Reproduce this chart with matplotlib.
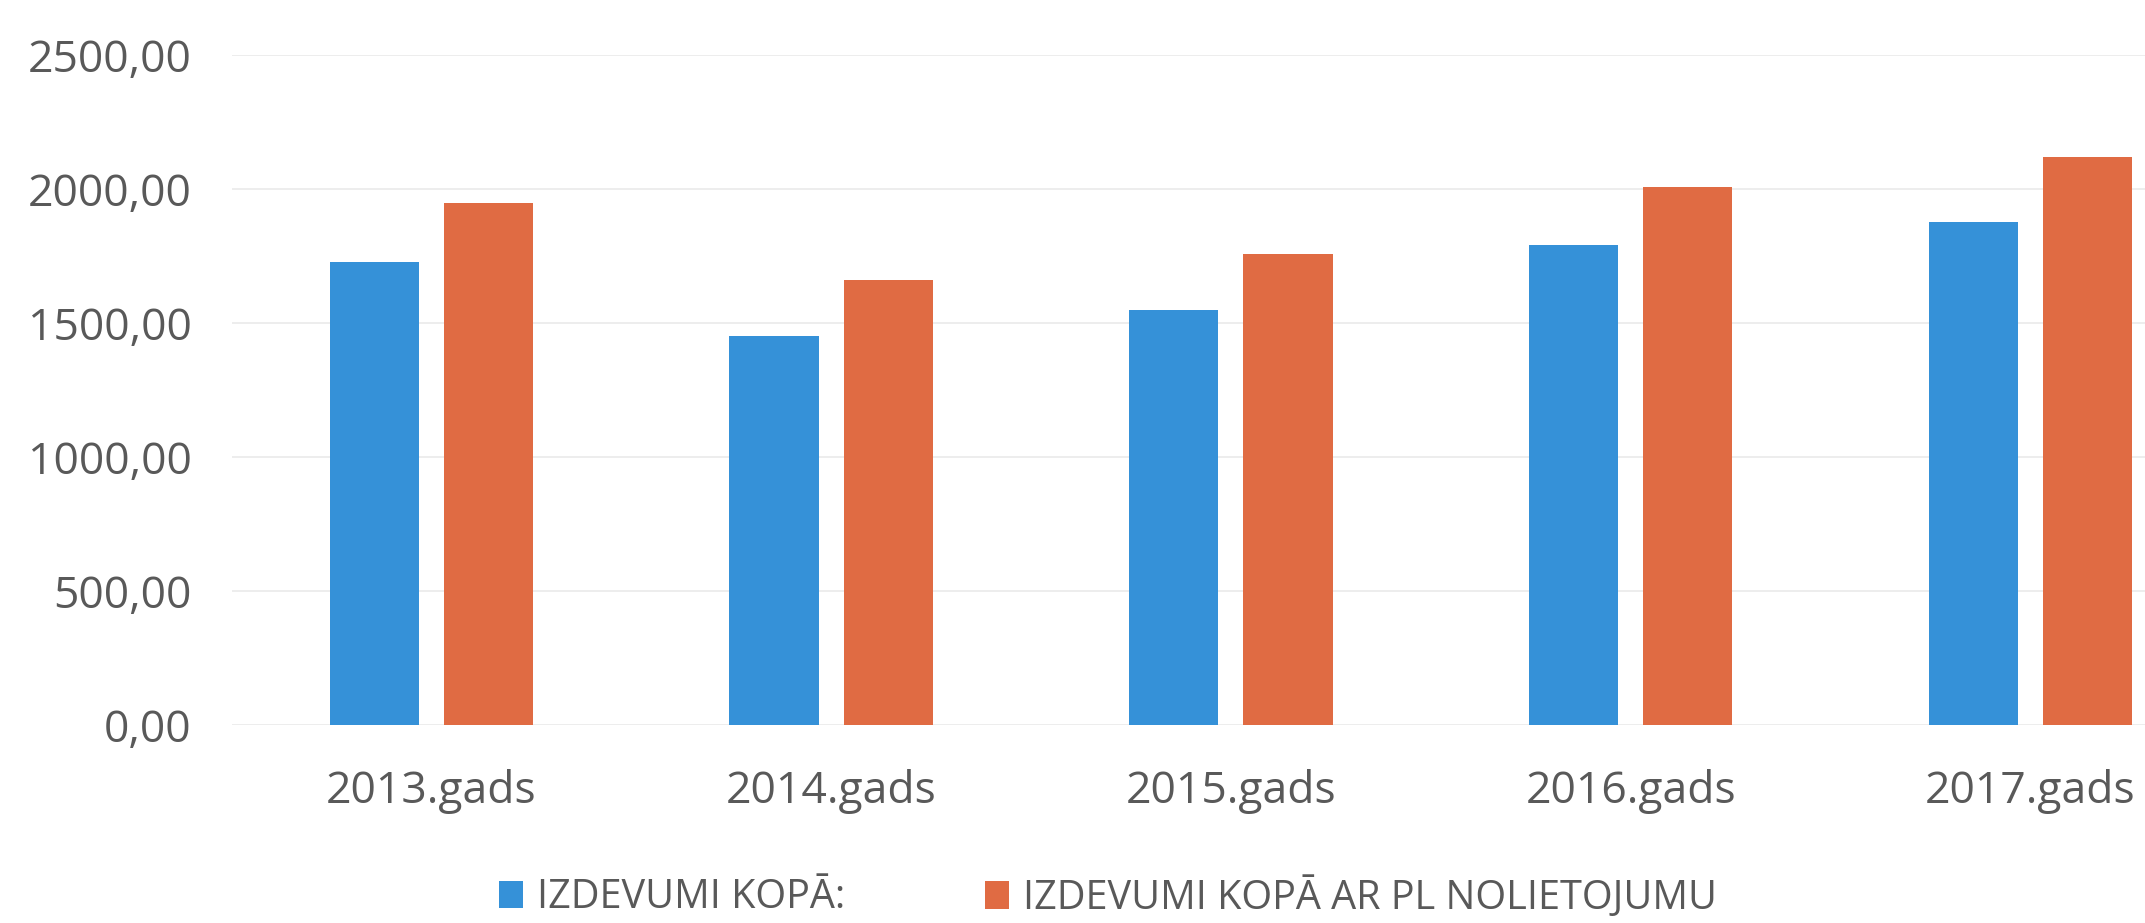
import matplotlib
matplotlib.use("Agg")
import matplotlib.pyplot as plt
from matplotlib.ticker import FuncFormatter, MultipleLocator
import numpy as np

categories = ["2013.gads", "2014.gads", "2015.gads", "2016.gads", "2017.gads"]
izdevumi = [1727, 1452, 1548, 1790, 1875]
izdevumi_pl = [1946, 1662, 1756, 2009, 2119]
series_names = ["IZDEVUMI KOPĀ:", "IZDEVUMI KOPĀ AR PL NOLIETOJUMU"]

blue = "#3591D8"
orange = "#E06B43"
text_col = "#595959"

plt.rcParams['font.family'] = ['Open Sans', 'DejaVu Sans']

fig = plt.figure(figsize=(21.45, 9.23), dpi=100)
ax = fig.add_axes([0.108, 0.2145, 0.9317, 0.726])

x = np.arange(len(categories))
w = 0.223
off = 0.143
b1 = ax.bar(x - off, izdevumi, width=w, color=blue, label=series_names[0], zorder=3)
b2 = ax.bar(x + off, izdevumi_pl, width=w, color=orange, label=series_names[1], zorder=3)

ax.set_xlim(-0.5, len(categories) - 0.5)
ax.set_ylim(0, 2500)
ax.yaxis.set_major_locator(MultipleLocator(500))
ax.yaxis.set_major_formatter(FuncFormatter(lambda v, p: f"{v:.2f}".replace('.', ',')))
ax.set_xticks(x)
ax.set_xticklabels(categories)
ax.grid(axis='y', color='#EAEAEA', linewidth=1.2, zorder=0)
for s in ax.spines.values():
    s.set_visible(False)
ax.tick_params(axis='y', length=0, pad=29, labelsize=32, labelcolor=text_col)
ax.tick_params(axis='x', length=0, pad=32, labelsize=32, labelcolor=text_col)

common = dict(loc='center left', frameon=False, fontsize=28.5, labelcolor=text_col,
              handlelength=0.6, handleheight=0.7, handletextpad=0.35,
              borderpad=0, borderaxespad=0)
leg1 = fig.legend(handles=[b1], labels=[series_names[0]],
                  bbox_to_anchor=(499 / 2145, 0.027), **common)
leg2 = fig.legend(handles=[b2], labels=[series_names[1]],
                  bbox_to_anchor=(985 / 2145, 0.027), **common)

fig.savefig("out.png", dpi=100, facecolor='white')
